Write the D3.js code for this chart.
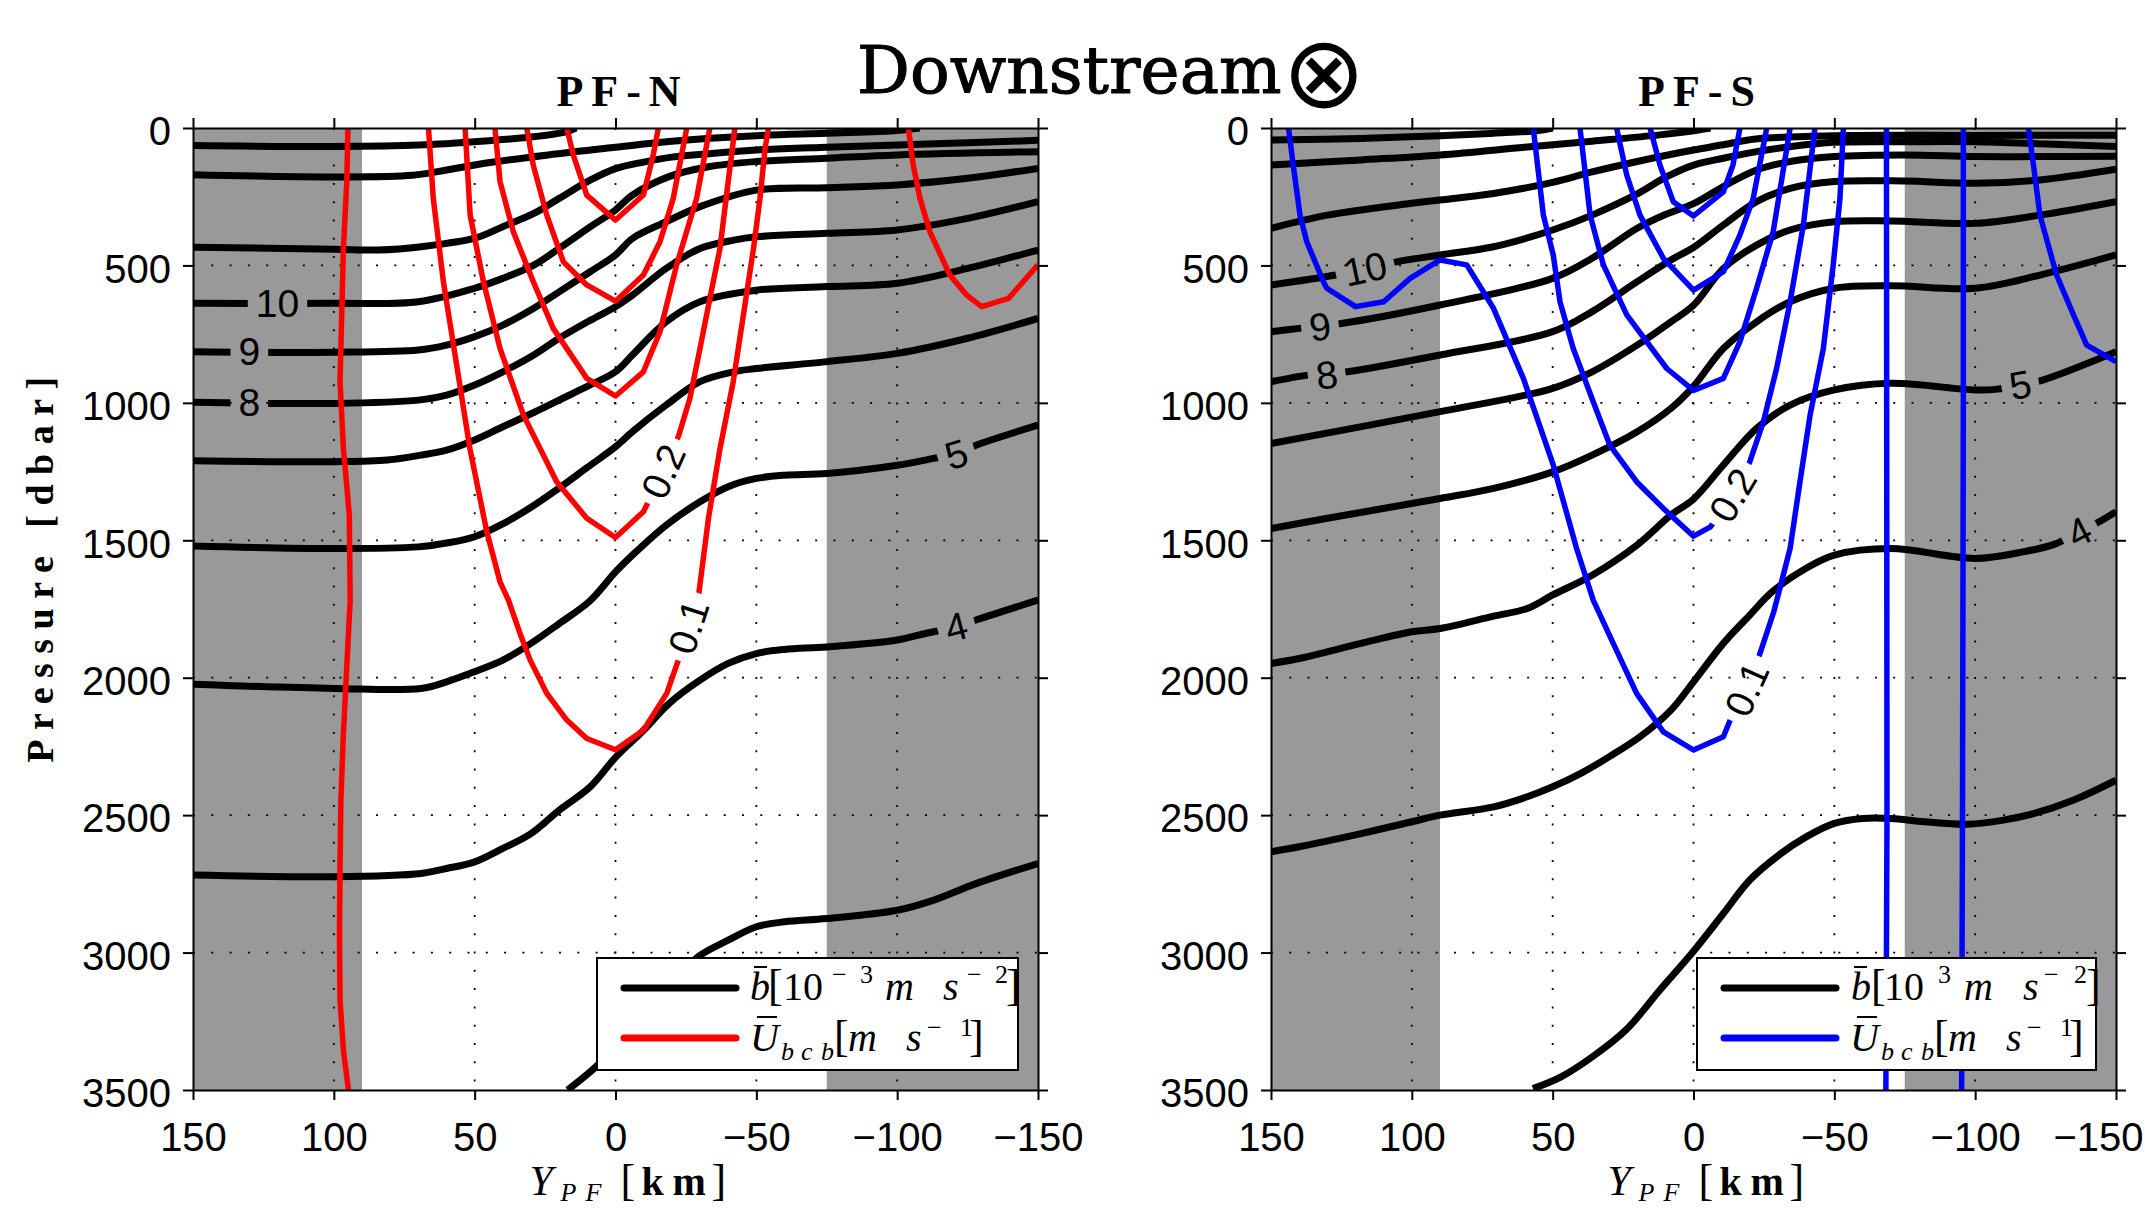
<!DOCTYPE html>
<html>
<head>
<meta charset="utf-8">
<script src="https://cdn.jsdelivr.net/npm/d3@7"></script>
<style>
  body { margin: 0; background: #fff; }
</style>
</head>
<body>
<svg id="fig" width="2145" height="1208"></svg>
<script>
// ---- axes / ticks ----
var xTicks = [150, 100, 50, 0, -50, -100, -150];
var yTicks = [0, 500, 1000, 1500, 2000, 2500, 3000, 3500];
var grayBands = [[150, 90], [-75, -150]];

// ---- PF-N : buoyancy contours [Y km, P dbar] ----
var nB13 = [[150,64],[100,67],[70,62],[45,46],[30,33],[18,15],[14,0]];
var nB12 = [[150,170],[100,178],[72,172],[60,153],[48,131],[24,98],[0,70],[-20,48],[-50,28],[-75,19],[-100,9],[-108,0]];
var nB11 = [[150,434],[100,441],[84,444],[69,432],[50,401],[40,359],[29,311],[20,256],[9,190],[0,148],[-10,124],[-20,106],[-35,92],[-50,80],[-75,70],[-100,62],[-125,54],[-150,45]];
var nB10 = [[150,638],[100,638],[70,632],[50,583],[40,547],[29,499],[20,438],[9,360],[0,298],[-6,244],[-19,177],[-33,141],[-50,122],[-75,110],[-100,98],[-150,86]];
var nB9  = [[150,814],[100,816],[70,808],[60,790],[50,759],[40,717],[29,656],[20,596],[9,523],[0,462],[-6,402],[-18,341],[-30,286],[-50,226],[-75,217],[-100,207],[-125,183],[-150,147]];
var nB8  = [[150,998],[100,1002],[70,990],[60,972],[50,935],[40,887],[29,826],[20,765],[9,700],[0,650],[-6,608],[-18,511],[-30,438],[-42,408],[-50,396],[-75,383],[-100,371],[-125,329],[-150,268]];
var nB7  = [[150,1211],[100,1214],[81,1208],[69,1190],[60,1172],[50,1135],[40,1087],[29,1035],[20,990],[9,935],[0,887],[-6,826],[-18,705],[-30,632],[-50,590],[-75,577],[-100,565],[-125,511],[-150,444]];
var nB6  = [[150,1521],[100,1530],[70,1524],[60,1510],[50,1487],[40,1440],[30,1380],[20,1310],[10,1235],[0,1160],[-6,1105],[-18,1008],[-30,923],[-42,887],[-50,875],[-75,850],[-100,820],[-125,765],[-150,693]];
var nB5  = [[150,2024],[100,2039],[69,2039],[60,2015],[50,1978],[40,1936],[30,1875],[20,1803],[9,1720],[0,1615],[-6,1554],[-18,1445],[-30,1360],[-40,1305],[-50,1275],[-60,1263],[-75,1257],[-100,1227],[-113,1202],[-121,1185],[-128,1154],[-150,1081]];
var nB4  = [[150,2718],[100,2724],[69,2712],[60,2694],[50,2670],[40,2621],[30,2567],[20,2482],[9,2397],[0,2290],[-10,2191],[-19,2094],[-30,2009],[-40,1948],[-50,1912],[-60,1897],[-75,1888],[-100,1863],[-110,1839],[-121,1815],[-128,1790],[-150,1718]];
var nB3  = [[17,3500],[7,3416],[-5,3290],[-15,3170],[-25,3060],[-30,3010],[-40,2955],[-50,2906],[-60,2888],[-75,2876],[-100,2846],[-113,2809],[-128,2749],[-150,2676]];

// ---- PF-N : velocity contours ----
var nU1 = [[95,0],[95.4,195],[96.6,438],[97.2,681],[97.8,923],[96.6,1166],[94.5,1408],[94.2,1720],[95.4,1960],[96.6,2203],[97.5,2445],[97.8,2688],[98,2931],[97.8,3173],[96.6,3355],[94.8,3500]];
var nU2 = [[17.3,0],[15,98],[10.2,244],[0,335],[-9.9,244],[-13.4,98],[-15.2,0]];
var nU3 = [[31.5,0],[29.2,135],[24.4,317],[18.5,487],[10.2,571],[0,630],[-9.9,535],[-15.8,414],[-20.5,256],[-25.3,0]];
var nU4 = [[42.8,0],[41,195],[36.3,377],[29.2,559],[22.1,729],[10.2,911],[0,975],[-9.9,887],[-15.8,741],[-21.7,498],[-28.8,256],[-33.5,0]];
var nU5 = [[53.4,0],[51.6,317],[46.9,559],[41,802],[32.7,1044],[20.9,1287],[10.2,1420],[0,1490],[-9.9,1396],[-17,1250],[-22.5,1117],[-26.4,984],[-30,802],[-33.5,620],[-37.1,438],[-40,195],[-42.4,0]];
var nU6 = [[66.4,0],[64.7,256],[61.1,560],[56.4,862],[51.7,1166],[45.7,1469],[41,1651],[38,1718],[33.9,1839],[30.3,1936],[24.4,2057],[17.3,2154],[10.2,2221],[0,2262],[-9.9,2191],[-18.2,2057],[-22.3,1936],[-26,1815],[-29.5,1700],[-33,1420],[-37.1,1166],[-41.8,923],[-45.4,681],[-49,438],[-51.3,256],[-53.1,74],[-54.3,0]];
var nU7 = [[-104,0],[-105.7,135],[-108.1,256],[-111.6,377],[-118.7,535],[-124.7,608],[-130,650],[-139.5,620],[-150,498]];

// ---- PF-S : buoyancy contours ----
var sB13 = [[150,44],[118,38],[90,28],[71,19],[55,9],[50,0]];
var sB12 = [[150,135],[118,116],[90,98],[60,70],[36,48],[12,25],[0,10],[-6,0]];
var sB11 = [[150,365],[130,317],[100,274],[90,262],[71,238],[50,198],[36,160],[20,122],[10,100],[0,80],[-10,62],[-22,40],[-50,28],[-100,27],[-150,26]];
var sB10 = [[150,571],[127,535],[116.6,511],[105,486],[90,462],[71,432],[50,371],[36,317],[20,240],[10,180],[0,135],[-10.6,110],[-22.4,86],[-34.3,68],[-50,52],[-75,50],[-100,50],[-125,58],[-150,67]];
var sB9  = [[150,741],[140,729],[132,718],[125,711],[90,644],[50,547],[36,474],[20,365],[10,315],[0,275],[-10.6,213],[-22.4,153],[-34.3,122],[-50,104],[-75,98],[-100,104],[-123,104],[-150,103]];
var sB8  = [[150,923],[137,899],[130,893],[123,887],[90,826],[50,741],[36,668],[20,559],[8,480],[0,435],[-10.6,353],[-22.4,268],[-34.3,220],[-50,195],[-75,193],[-100,201],[-123,189],[-150,150]];
var sB7  = [[150,1148],[90,1032],[50,947],[36,887],[20,790],[8,705],[0,645],[-10.6,511],[-22.4,426],[-34.3,371],[-50,341],[-70,338],[-100,347],[-123,317],[-150,268]];
var sB6  = [[150,1457],[130,1420],[90,1348],[71,1311],[50,1251],[36,1190],[20,1105],[8,1020],[0,940],[-10.6,802],[-22.4,705],[-34.3,632],[-50,583],[-70,574],[-100,583],[-123,535],[-150,462]];
var sB5  = [[150,1948],[140,1930],[118,1875],[100,1833],[90,1821],[71,1776],[59,1748],[50,1699],[36,1627],[20,1517],[8,1408],[0,1350],[-10.6,1226],[-22.4,1093],[-34.3,1008],[-50,953],[-70,929],[-100,953],[-108,950],[-116,935],[-124,917],[-150,814]];
var sB4  = [[150,2633],[140,2615],[118,2567],[100,2524],[90,2500],[71,2470],[59,2433],[50,2397],[40,2348],[30,2288],[19,2215],[8,2118],[0,2015],[-10.6,1875],[-20,1772],[-28,1687],[-40,1602],[-50,1554],[-70,1530],[-100,1566],[-117,1542],[-128,1515],[-137,1470],[-145,1427],[-150,1396]];
var sB3  = [[57,3495],[47,3452],[36,3380],[24,3282],[12,3137],[0,2995],[-10.6,2858],[-20,2736],[-31,2640],[-40,2579],[-50,2530],[-60,2512],[-70,2512],[-82,2524],[-97,2533],[-110,2518],[-121,2494],[-135,2445],[-150,2373]];

// ---- PF-S : velocity contours ----
var sU1 = [[143.8,0],[142.1,135],[139.7,317],[137.3,414],[131.4,559],[130.2,583],[120,650],[110,632],[100.6,547],[90,480],[80.5,498],[71,656],[60.4,911],[49.8,1226],[41.5,1530],[35.6,1718],[28.5,1875],[20.2,2057],[10.7,2197],[0,2263],[-10.6,2215],[-13.5,2142],[-19,2040],[-24,1900],[-28.5,1760],[-34.3,1530],[-37.8,1287],[-41.4,1044],[-46.1,802],[-49.6,498],[-52,256],[-53.2,0]];
var sU2 = [[56.9,0],[53.3,317],[49.8,462],[47.4,632],[42.7,802],[35.6,996],[29.7,1154],[20.2,1287],[10.7,1384],[0,1485],[-6,1451],[-14,1336],[-20,1214],[-24.8,1069],[-29.5,875],[-34.3,632],[-39,353],[-43.1,0]];
var sU3 = [[40.3,0],[36.7,317],[32,498],[23.7,680],[9.5,875],[0,955],[-10.6,911],[-16.5,777],[-22.4,583],[-28.3,377],[-34.3,0]];
var sU4 = [[27.3,0],[23.7,171],[19,317],[10.7,474],[0,590],[-10.6,523],[-16.5,389],[-21.2,256],[-26,0]];
var sU5 = [[15.4,0],[11.9,135],[7.2,268],[0,320],[-10.6,232],[-14,135],[-16.5,0]];
var sU6 = [[-68.5,0],[-68.6,1200],[-68.7,2500],[-68.3,3500]];
var sU7 = [[-95.8,0],[-95.8,1000],[-95.5,2500],[-95.2,3500]];
var sU8 = [[-118.9,0],[-120.7,135],[-123,317],[-128.9,535],[-134.9,680],[-139.6,790],[-150,850]];

// contour labels: [text, Y, P, angle]
var nLabelsB = [["10",120,640,0],["9",130,814,0],["8",130,1000,0],["5",-121,1188,-17],["4",-121,1815,-15]];
var nLabelsU = [["0.2",-17,1250,-66],["0.1",-26,1815,-72]];
var sLabelsB = [["10",116.6,513,-12],["9",132.6,723,-7],["8",130.2,899,-7],["5",-116,935,-10],["4",-137,1470,-27]];
var sLabelsU = [["0.2",-14,1336,-59],["0.1",-19,2042,-66]];

// legend text pieces: [text, dx, baseline dy, size, style]
var legendN1 = [["b",2,42,40,"italic"],["[",20,42,44,"normal"],["10",35,42,40,"normal"],["\u2212",84,25,26,"normal"],["3",112,25,26,"normal"],
  ["m",137,42,40,"italic"],["s",195,42,40,"italic"],["\u2212",219,25,26,"normal"],["2",247,25,26,"normal"],["]",258,42,44,"normal"]];
var legendS1 = [["b",3,42,40,"italic"],["[",23,42,44,"normal"],["10",36,42,40,"normal"],["3",90,25,26,"normal"],
  ["m",116,42,40,"italic"],["s",175,42,40,"italic"],["\u2212",196,25,26,"normal"],["2",226,25,26,"normal"],["]",238,42,44,"normal"]];
var legendU2 = [["U",2,93,40,"italic"],["b",33,102,26,"italic"],["c",53,102,26,"italic"],["b",73,102,26,"italic"],["[",86,93,44,"normal"],
  ["m",100,93,40,"italic"],["s",158,93,40,"italic"],["\u2212",179,78,26,"normal"],["1",212,78,26,"normal"],["]",221,93,44,"normal"]];
// x label pieces: [text, dx, baseline y, size, style, weight]
var xLabelPieces = [["Y",0,1195,42,"italic","normal"],["P",31,1201,26,"italic","normal"],["F",56,1201,26,"italic","normal"],
  ["[",91,1195,44,"normal","normal"],["k",112,1195,40,"normal","bold"],["m",143,1195,40,"normal","bold"],["]",182,1195,44,"normal","normal"]];

var W = 2145, H = 1208;
var svg = d3.select("#fig");
var defs = svg.append("defs");
var y = d3.scaleLinear().domain([0, 3500]).range([128, 1090]);

var serif = "'Liberation Serif', 'Times New Roman', serif";
var sans = "'Liberation Sans', Arial, sans-serif";

// one <text> made of absolutely placed tspans
function pieceText(parent, pieces, x0, y0) {
  var t = parent.append("text").attr("font-family", serif).attr("fill", "#000");
  t.selectAll("tspan").data(pieces).enter().append("tspan")
    .attr("x", d => x0 + d[1]).attr("y", d => y0 + d[2])
    .attr("font-size", d => d[3]).attr("font-style", d => d[4])
    .attr("font-weight", d => d[5] || "normal")
    .text(d => d[0]);
  return t;
}

function drawPanel(cfg) {
  var x = d3.scaleLinear().domain([150, -150]).range([cfg.left, cfg.left + 845]);
  var g = svg.append("g");

  // grey bands
  g.selectAll("rect.band").data(grayBands).enter().append("rect")
    .attr("x", d => x(d[0])).attr("width", d => x(d[1]) - x(d[0]))
    .attr("y", y(0)).attr("height", y(3500) - y(0))
    .attr("fill", "#999999");

  // dotted grid
  g.selectAll("line.gx").data(xTicks.slice(1, -1)).enter().append("line")
    .attr("x1", d => x(d)).attr("x2", d => x(d))
    .attr("y1", y(0)).attr("y2", y(3500))
    .attr("stroke", "#000").attr("stroke-width", 1.8).attr("stroke-dasharray", "2,16.3");
  g.selectAll("line.gy").data(yTicks.slice(1, -1)).enter().append("line")
    .attr("x1", x(150)).attr("x2", x(-150))
    .attr("y1", d => y(d)).attr("y2", d => y(d))
    .attr("stroke", "#000").attr("stroke-width", 1.8).attr("stroke-dasharray", "2,16.3");

  var clipId = "clip-" + cfg.id;
  defs.append("clipPath").attr("id", clipId).append("rect")
    .attr("x", x(150)).attr("y", y(0))
    .attr("width", x(-150) - x(150)).attr("height", y(3500) - y(0));

  contourSet(g, x, cfg.black, cfg.labelsB, "#000", 7, d3.curveCatmullRom.alpha(0.5), clipId, cfg.id + "b");
  contourSet(g, x, cfg.vel, cfg.labelsU, cfg.color, 5.5, d3.curveLinear, clipId, cfg.id + "u");

  // legend
  var lw = cfg.legendW, lx = x(-150) - 20 - lw, ly = 958;
  var leg = g.append("g");
  leg.append("rect").attr("x", lx).attr("y", ly).attr("width", lw).attr("height", 112)
    .attr("fill", "#fff").attr("stroke", "#000").attr("stroke-width", 2);
  leg.selectAll("line.sample").data([["#000", 30], [cfg.color, 80]]).enter().append("line")
    .attr("x1", lx + 27).attr("x2", lx + 139)
    .attr("y1", d => ly + d[1]).attr("y2", d => ly + d[1])
    .attr("stroke", d => d[0]).attr("stroke-width", 7).attr("stroke-linecap", "round");
  var tx = lx + 151;
  pieceText(leg, cfg.legend1, tx, ly);
  pieceText(leg, legendU2, tx, ly);
  // overbars on b and U
  leg.selectAll("line.bar").data([[6, 19, 9], [9, 29, 59]]).enter().append("line")
    .attr("x1", d => tx + d[0]).attr("x2", d => tx + d[1])
    .attr("y1", d => ly + d[2]).attr("y2", d => ly + d[2])
    .attr("stroke", "#000").attr("stroke-width", 2);

  // axes, ticks outward on all sides
  var ax = g.append("g");
  var bottom = ax.append("g").attr("transform", "translate(0," + y(3500) + ")")
    .call(d3.axisBottom(x).tickValues(xTicks).tickSizeInner(10).tickSizeOuter(0).tickPadding(23).tickFormat(d3.format("d")));
  var top = ax.append("g").attr("transform", "translate(0," + y(0) + ")")
    .call(d3.axisTop(x).tickValues(xTicks).tickSizeInner(10).tickSizeOuter(0));
  var left = ax.append("g").attr("transform", "translate(" + x(150) + ",0)")
    .call(d3.axisLeft(y).tickValues(yTicks).tickSizeInner(10).tickSizeOuter(0).tickPadding(12).tickFormat(d3.format("d")));
  var right = ax.append("g").attr("transform", "translate(" + x(-150) + ",0)")
    .call(d3.axisRight(y).tickValues(yTicks).tickSizeInner(10).tickSizeOuter(0));
  top.selectAll(".tick text").remove();
  right.selectAll(".tick text").remove();
  left.selectAll(".tick text").attr("dy", "0.42em");
  ax.selectAll(".domain, .tick line").attr("stroke", "#000").attr("stroke-width", 2);
  ax.selectAll(".tick text").attr("font-family", sans).attr("font-size", 40).attr("fill", "#000");
  if (cfg.shiftLast) {
    // keep the last label inside the picture
    bottom.selectAll(".tick text").filter(d => d === -150)
      .attr("text-anchor", "end").attr("x", 2145 - 2 - x(-150));
  }

  // panel title
  var cx = (x(150) + x(-150)) / 2;
  g.append("text").attr("x", cx + 7).attr("y", 106).attr("text-anchor", "middle")
    .attr("font-family", serif).attr("font-weight", "bold").attr("font-size", 44)
    .attr("letter-spacing", 8).text(cfg.title);

  // x label  Y_PF [km]
  pieceText(g, xLabelPieces, cx - 86, 0);
}

function contourSet(g, x, lines, labels, color, width, curve, clipId, key) {
  var maskId = "mask-" + key;
  var mask = defs.append("mask").attr("id", maskId).attr("maskUnits", "userSpaceOnUse")
    .attr("x", 0).attr("y", 0).attr("width", W).attr("height", H);
  mask.append("rect").attr("width", W).attr("height", H).attr("fill", "#fff");

  var line = d3.line().x(d => x(d[0])).y(d => y(d[1])).curve(curve);
  g.append("g").attr("clip-path", "url(#" + clipId + ")")
    .append("g").attr("mask", "url(#" + maskId + ")")
    .selectAll("path").data(lines).enter().append("path")
    .attr("d", line).attr("fill", "none").attr("stroke", color)
    .attr("stroke-width", width).attr("stroke-linejoin", "round");

  var tg = g.append("g");
  labels.forEach(function (l) {
    var tr = "translate(" + x(l[1]) + "," + y(l[2]) + ") rotate(" + l[3] + ")";
    var t = tg.append("text").attr("transform", tr)
      .attr("text-anchor", "middle").attr("dominant-baseline", "central")
      .attr("font-family", sans).attr("font-size", 39).attr("fill", "#000")
      .text(l[0]);
    var w = t.node().getComputedTextLength();
    mask.append("rect").attr("transform", tr)
      .attr("x", -w / 2 - 8).attr("y", -16).attr("width", w + 16).attr("height", 32)
      .attr("fill", "#000");
  });
}

drawPanel({ id: "n", left: 193, title: "PF-N", color: "#ff0000",
  black: [nB13, nB12, nB11, nB10, nB9, nB8, nB7, nB6, nB5, nB4, nB3],
  vel: [nU1, nU2, nU3, nU4, nU5, nU6, nU7],
  labelsB: nLabelsB, labelsU: nLabelsU, legendW: 421, legend1: legendN1 });
drawPanel({ id: "s", left: 1271, title: "PF-S", color: "#0000ff",
  black: [sB13, sB12, sB11, sB10, sB9, sB8, sB7, sB6, sB5, sB4, sB3],
  vel: [sU1, sU2, sU3, sU4, sU5, sU6, sU7, sU8],
  labelsB: sLabelsB, labelsU: sLabelsU, legendW: 399, legend1: legendS1, shiftLast: true });

// y label
svg.append("text").attr("transform", "translate(53,565) rotate(-90)")
  .attr("text-anchor", "middle").attr("font-family", serif).attr("font-weight", "bold")
  .attr("font-size", 38).attr("letter-spacing", 9.5).text("Pressure [dbar]");

// main title with the "into the page" symbol
var title = svg.append("text").attr("y", 93).attr("fill", "#000");
title.append("tspan").attr("x", 857).attr("font-family", "'DejaVu Serif', serif").attr("font-size", 66)
  .attr("stroke", "#000").attr("stroke-width", 1).text("Downstream");
title.append("tspan").attr("x", 1282).attr("y", 107).attr("font-family", "'DejaVu Sans', sans-serif")
  .attr("font-size", 100).text("\u2297");
</script>
</body>
</html>
